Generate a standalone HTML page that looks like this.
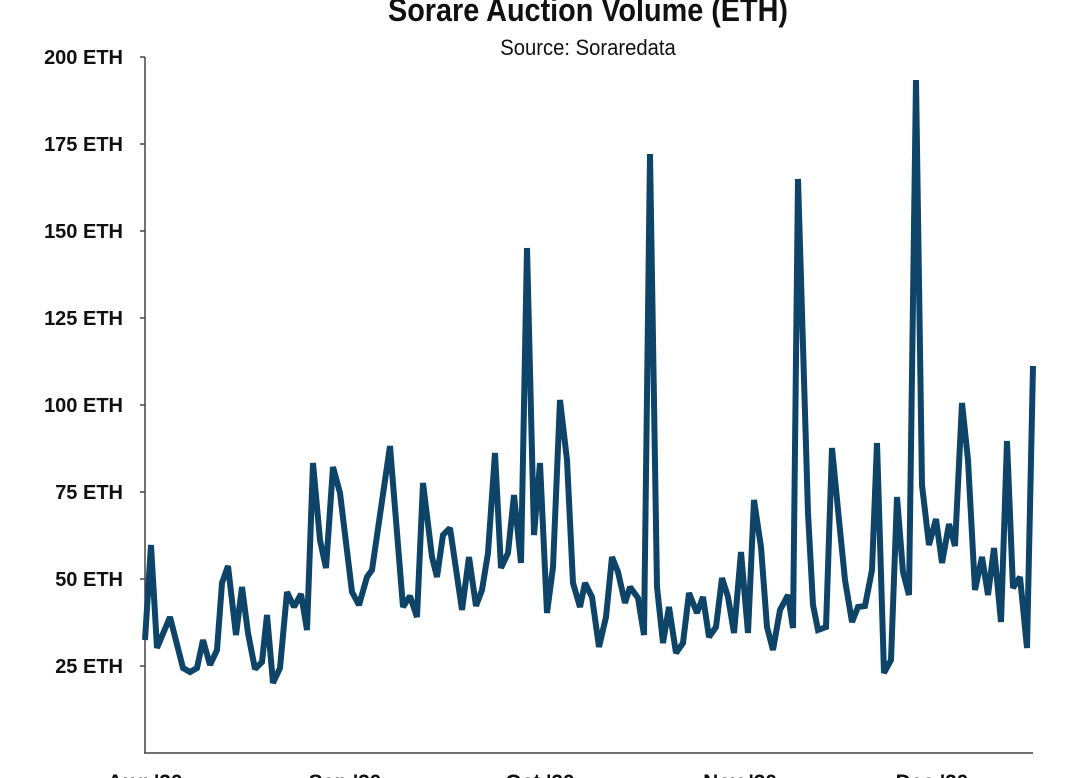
<!DOCTYPE html>
<html><head><meta charset="utf-8"><style>
body{margin:0;background:#fff;width:1080px;height:778px;overflow:hidden}
svg{display:block}
text{font-family:"Liberation Sans",sans-serif;fill:#111}
</style></head><body>
<svg width="1080" height="778" viewBox="0 0 1080 778">
<text x="588" y="21" text-anchor="middle" font-size="32" font-weight="bold" transform="translate(588,0) scale(0.9,1) translate(-588,0)">Sorare Auction Volume (ETH)</text>
<text x="588" y="55" text-anchor="middle" font-size="22" transform="translate(588,0) scale(0.92,1) translate(-588,0)">Source: Soraredata</text>
<g font-size="20" font-weight="bold" text-anchor="end" fill="#222">
<text x="123" y="64">200 ETH</text>
<text x="123" y="151">175 ETH</text>
<text x="123" y="238">150 ETH</text>
<text x="123" y="325">125 ETH</text>
<text x="123" y="412">100 ETH</text>
<text x="123" y="499">75 ETH</text>
<text x="123" y="586">50 ETH</text>
<text x="123" y="673">25 ETH</text>
</g>
<g stroke="#444" stroke-width="1.5">
<line x1="145" y1="57" x2="145" y2="753"/>
<line x1="144" y1="753" x2="1033" y2="753"/>
<line x1="140" y1="57" x2="145" y2="57"/><line x1="140" y1="144" x2="145" y2="144"/>
<line x1="140" y1="231" x2="145" y2="231"/><line x1="140" y1="318" x2="145" y2="318"/>
<line x1="140" y1="405" x2="145" y2="405"/><line x1="140" y1="492" x2="145" y2="492"/>
<line x1="140" y1="579" x2="145" y2="579"/><line x1="140" y1="666" x2="145" y2="666"/>
</g>
<g font-size="21" font-weight="bold" text-anchor="middle">
<text x="145" y="789">Aug '20</text>
<text x="345" y="789">Sep '20</text>
<text x="540" y="789">Oct '20</text>
<text x="740" y="789">Nov '20</text>
<text x="932" y="789">Dec '20</text>
</g>
<polyline fill="none" stroke="#0e4468" stroke-width="6" stroke-linejoin="miter" stroke-miterlimit="2" points="
145,640 151,545 157,648 170,617 183,668 190,672 197,668 203,640 210,665 217,650 222,583 228,566 236,635 242,587 248,633 255,669 262,662 267,615 273,683 280,668 287,592 294,607 301,594 307,630 313,463 320,540 326,568 333,467 340,493 352,592 359,605 367,577 372,570 390,446 403,607 410,596 417,617 423,483 432,557 437,577 443,535 450,528 462,610 469,557 476,606 482,590 488,553 495,453 501,568 508,553 514,495 521,563 527,248 534,535 540,463 547,613 553,567 560,400 567,460 573,583 580,607 585,583 592,597 599,647 606,617 612,557 618,572 625,603 630,587 638,598 644,635 650,154 657,587 663,643 669,607 676,653 683,643 689,593 697,613 703,597 709,637 716,627 722,578 728,597 734,633 741,552 748,633 754,500 761,547 767,627 773,650 780,610 788,595 793,628 798,179 808,513 813,605 818,630 826,627 832,448 839,520 845,580 852,622 858,607 865,606 872,570 877,443 884,673 891,660 897,497 903,572 909,595 916,80 922,485 929,545 936,519 942,563 949,524 955,546 962,403 968,460 975,590 982,557 988,595 994,548 1001,622 1007,441 1013,588 1020,577 1027,648 1033,366"/>
</svg>
</body></html>
